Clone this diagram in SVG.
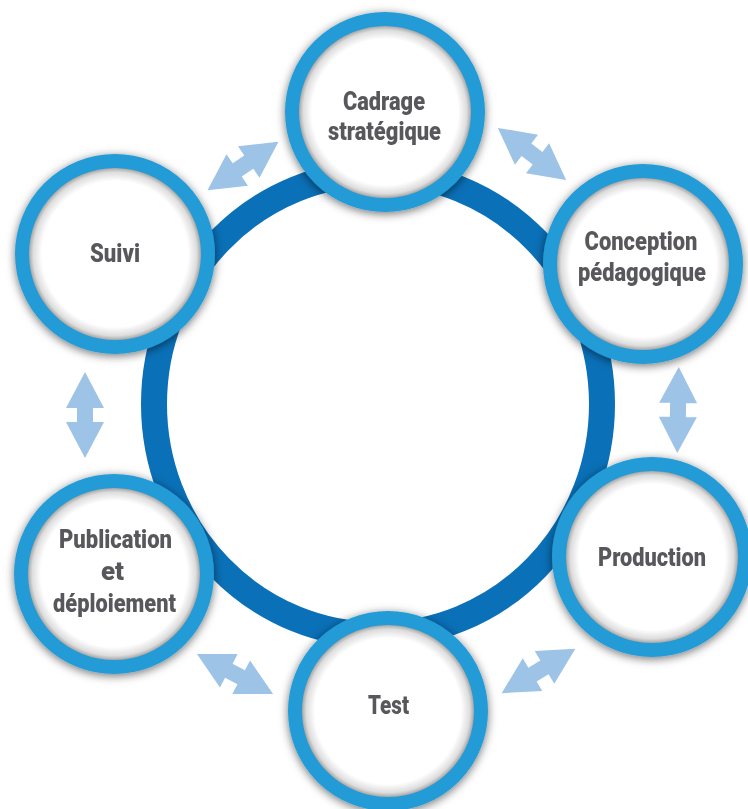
<svg xmlns="http://www.w3.org/2000/svg" width="748" height="809" viewBox="0 0 748 809">
  <style>
    .lbl { font-family: Roboto, "Liberation Sans", sans-serif; font-weight: 900; font-size: 25px; fill: #58595b; text-anchor: middle; }
    .ring { fill: none; stroke: #239bd7; stroke-width: 14; }
    .disk { fill: url(#inner); }
    .arr { fill: #9dc3e6; }
  </style>
  <defs>
    <radialGradient id="inner" cx="0.5" cy="0.5" r="0.5">
      <stop offset="0" stop-color="#ffffff"/>
      <stop offset="0.84" stop-color="#ffffff"/>
      <stop offset="0.94" stop-color="#dddddd"/>
      <stop offset="1" stop-color="#9a9a9a"/>
    </radialGradient>
    <filter id="shadow" x="-20%" y="-20%" width="140%" height="140%">
      <feDropShadow dx="0" dy="2" stdDeviation="5" flood-color="#000000" flood-opacity="0.55"/>
    </filter>
    <path id="dbl" d="M-43,0 L-7,-19 L-7,-8 L7,-8 L7,-19 L43,0 L7,19 L7,8 L-7,8 L-7,19 Z"/>
  </defs>
  <rect width="748" height="809" fill="#ffffff"/>

  <g id="cycle-ring">
    <ellipse cx="378" cy="404" rx="224" ry="231" fill="none" stroke="#0a70b7" stroke-width="26"/>
  </g>

  <g id="connectors">
    <use href="#dbl" class="arr" transform="translate(243,166) rotate(-34.4)"/>
    <use href="#dbl" class="arr" transform="translate(532,154) rotate(37.4)"/>
    <use href="#dbl" class="arr" transform="translate(678,410) rotate(91)"/>
    <use href="#dbl" class="arr" transform="translate(538.5,671) rotate(-31)"/>
    <use href="#dbl" class="arr" transform="translate(235,674) rotate(27.8)"/>
    <use href="#dbl" class="arr" transform="translate(85,415) rotate(90)"/>
  </g>

  <g id="node-cadrage" filter="url(#shadow)">
    <circle cx="385" cy="112" r="87" class="disk"/>
    <circle cx="385" cy="112" r="93" class="ring"/>
    <text class="lbl" x="384" y="110" textLength="82" lengthAdjust="spacingAndGlyphs">Cadrage</text>
    <text class="lbl" x="384.5" y="140" textLength="113" lengthAdjust="spacingAndGlyphs">stratégique</text>
  </g>

  <g id="node-conception" filter="url(#shadow)">
    <circle cx="643" cy="264" r="87" class="disk"/>
    <circle cx="643" cy="264" r="93" class="ring"/>
    <text class="lbl" x="641" y="250" textLength="113" lengthAdjust="spacingAndGlyphs">Conception</text>
    <text class="lbl" x="642" y="281" textLength="128" lengthAdjust="spacingAndGlyphs">pédagogique</text>
  </g>

  <g id="node-production" filter="url(#shadow)">
    <circle cx="652" cy="557" r="87" class="disk"/>
    <circle cx="652" cy="557" r="93" class="ring"/>
    <text class="lbl" x="652" y="566" textLength="108" lengthAdjust="spacingAndGlyphs">Production</text>
  </g>

  <g id="node-test" filter="url(#shadow)">
    <circle cx="388" cy="711" r="87" class="disk"/>
    <circle cx="388" cy="711" r="93" class="ring"/>
    <text class="lbl" x="388.5" y="714" textLength="41" lengthAdjust="spacingAndGlyphs">Test</text>
  </g>

  <g id="node-publication" filter="url(#shadow)">
    <circle cx="114" cy="574" r="87" class="disk"/>
    <circle cx="114" cy="574" r="93" class="ring"/>
    <text class="lbl" x="115.5" y="548" textLength="113" lengthAdjust="spacingAndGlyphs">Publication</text>
    <text class="lbl" x="112.5" y="580" textLength="23" lengthAdjust="spacingAndGlyphs">et</text>
    <text class="lbl" x="114.5" y="612" textLength="123" lengthAdjust="spacingAndGlyphs">déploiement</text>
  </g>

  <g id="node-suivi" filter="url(#shadow)">
    <circle cx="115" cy="254" r="87" class="disk"/>
    <circle cx="115" cy="254" r="93" class="ring"/>
    <text class="lbl" x="115" y="262" textLength="50" lengthAdjust="spacingAndGlyphs">Suivi</text>
  </g>
</svg>
